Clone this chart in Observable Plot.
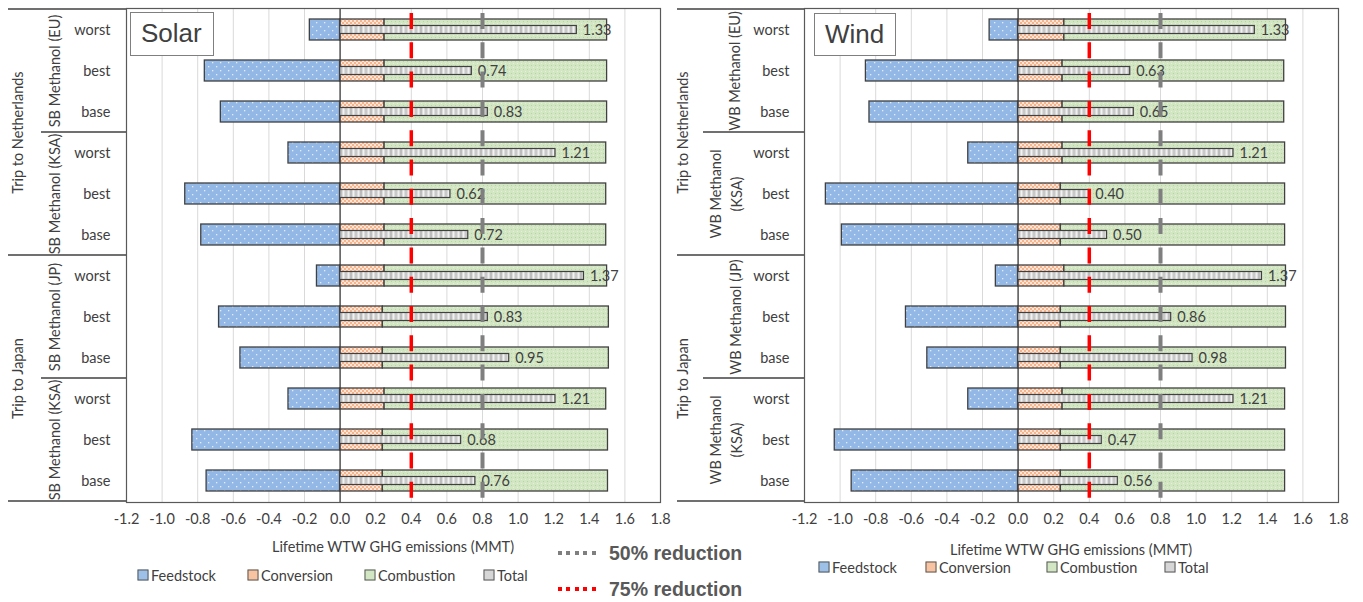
<!DOCTYPE html>
<html><head><meta charset="utf-8">
<script src="https://cdn.jsdelivr.net/npm/d3@7"></script>
<script src="https://cdn.jsdelivr.net/npm/@observablehq/plot@0.6"></script>
<style>
body{margin:0;background:#fff;font-family:Lato,sans-serif;}
#root{position:relative;width:1363px;height:602px;overflow:hidden;background:#fff;}
.box{position:absolute;border:1px solid #7f7f7f;font-family:"Liberation Sans",Arial,sans-serif;font-size:26px;color:#404040;box-sizing:border-box;padding-left:10px;line-height:40px;background:#fff;}
.axt{position:absolute;font-size:14.5px;color:#404040;white-space:nowrap;transform:translate(-50%,-50%);}
.leg{position:absolute;font-size:14.5px;color:#404040;white-space:nowrap;transform:translateY(-50%);}
.sw{position:absolute;width:9px;height:9px;border:1px solid #595959;transform:translate(-50%,-50%);}
.red{position:absolute;font-family:"Liberation Sans",Arial,sans-serif;font-weight:bold;font-size:19.5px;color:#595959;white-space:nowrap;transform:translateY(-50%);}
.dots{position:absolute;height:4px;width:38px;transform:translateY(-50%);}
</style></head>
<body>
<svg width="0" height="0" style="position:absolute">
<defs>
<pattern id="pFeed" patternUnits="userSpaceOnUse" width="8" height="8">
<rect width="8" height="8" fill="#93b8e6"/>
<rect x="2" y="2" width="1.3" height="1.3" fill="#e3edf9"/>
<rect x="6" y="6" width="1.3" height="1.3" fill="#e3edf9"/>
</pattern>
<pattern id="pConv" patternUnits="userSpaceOnUse" width="4" height="4">
<rect width="4" height="4" fill="#f6b48c"/>
<rect x="0" y="0" width="2" height="2" fill="#fde4d4"/>
<rect x="2" y="2" width="2" height="2" fill="#fde4d4"/>
</pattern>
<pattern id="pComb" patternUnits="userSpaceOnUse" width="4" height="4">
<rect width="4" height="4" fill="#d3e6c3"/>
<rect x="1" y="1" width="1" height="1" fill="#b9d4a3"/>
<rect x="3" y="3" width="1" height="1" fill="#e4f0da"/>
</pattern>
<pattern id="pTot" patternUnits="userSpaceOnUse" width="10" height="10">
<rect width="10" height="10" fill="#dcdcdc"/>
<rect x="0" width="2" height="10" fill="#bdbdbd"/>
<rect x="3" width="1" height="10" fill="#f2f2f2"/>
<rect x="5" width="2" height="10" fill="#c9c9c9"/>
<rect x="8" width="1" height="10" fill="#efefef"/>
</pattern>
</defs>
</svg>
<div id="root"></div>
<script>
// ---------- data ----------
const scenarioLabels = ["worst", "best", "base"];
const tripLabels = ["Trip to Netherlands", "Trip to Japan"];
const solarProducts = ["SB Methanol (EU)", "SB Methanol (KSA)", "SB Methanol (JP)", "SB Methanol (KSA)"];
const windProducts = ["WB Methanol (EU)", "WB Methanol\n(KSA)", "WB Methanol (JP)", "WB Methanol\n(KSA)"];

const solarFeedstock  = [-0.17, -0.76, -0.67, -0.29, -0.87, -0.78, -0.13, -0.68, -0.56, -0.29, -0.83, -0.75];
const solarConversion = [0.25, 0.25, 0.25, 0.25, 0.25, 0.25, 0.25, 0.24, 0.24, 0.25, 0.24, 0.24];
const solarCombustion = [1.25, 1.25, 1.25, 1.245, 1.245, 1.245, 1.25, 1.27, 1.27, 1.245, 1.265, 1.265];
const solarTotal      = [1.33, 0.74, 0.83, 1.21, 0.62, 0.72, 1.37, 0.83, 0.95, 1.21, 0.68, 0.76];

const windFeedstock  = [-0.16, -0.855, -0.835, -0.28, -1.08, -0.99, -0.125, -0.63, -0.51, -0.28, -1.03, -0.935];
const windConversion = [0.26, 0.25, 0.25, 0.25, 0.24, 0.24, 0.26, 0.24, 0.24, 0.25, 0.24, 0.24];
const windCombustion = [1.245, 1.245, 1.245, 1.25, 1.26, 1.26, 1.245, 1.265, 1.265, 1.25, 1.26, 1.26];
const windTotal      = [1.33, 0.63, 0.65, 1.21, 0.40, 0.50, 1.37, 0.86, 0.98, 1.21, 0.47, 0.56];

const xTicks = [-1.2, -1.0, -0.8, -0.6, -0.4, -0.2, 0.0, 0.2, 0.4, 0.6, 0.8, 1.0, 1.2, 1.4, 1.6, 1.8];
const reduction50 = 0.8;
const reduction75 = 0.4;
const legendItems = ["Feedstock", "Conversion", "Combustion", "Total"];
const reductionLabels = ["50% reduction", "75% reduction"];
const axisTitle = "Lifetime WTW GHG emissions (MMT)";

// ---------- layout ----------
const TEXT = "#404040";
const W = 690, H = 560, ML = 136, MR = 20, MT = 8, MB = 58;
const STEP = (H - MT - MB) / 12;
const root = document.getElementById("root");

function buildPanel(p) {
  const rows = d3.range(12).map(i => ({
    i, scen: scenarioLabels[i % 3],
    feed: p.feedstock[i], conv: p.conversion[i], comb: p.combustion[i], total: p.total[i]
  }));
  const productMarks = p.products.map((name, g) => Plot.text([{row: g * 3 + 1, name}], {
    y: "row", text: "name", frameAnchor: "left", textAnchor: "middle", rotate: -90, dx: p.productX[g] - ML,
    lineHeight: 1.45, fontSize: 14.5, fill: TEXT
  }));
  const chart = Plot.plot({
    width: W, height: H, marginLeft: ML, marginRight: MR, marginTop: MT, marginBottom: MB,
    style: {fontFamily: "Lato, sans-serif", fontSize: "14.5px", color: TEXT, background: "transparent", overflow: "visible"},
    x: {domain: [-1.2, 1.8], ticks: xTicks, tickFormat: d => d.toFixed(1), tickSize: 0, tickPadding: 11, label: null},
    y: {domain: d3.range(12), paddingInner: 0.5, paddingOuter: 0.25, axis: null},
    marks: [
      Plot.ruleX(xTicks, {stroke: "#d9d9d9", strokeWidth: 1}),
      Plot.barX(rows, {y: "i", x1: "feed", x2: d => 0, fill: "url(#pFeed)", stroke: "#404040", strokeWidth: 1.3}),
      Plot.barX(rows, {y: "i", x1: d => 0, x2: "conv", fill: "url(#pConv)", stroke: "#404040", strokeWidth: 1.3}),
      Plot.barX(rows, {y: "i", x1: "conv", x2: d => d.conv + d.comb, fill: "url(#pComb)", stroke: "#404040", strokeWidth: 1.3}),
      Plot.ruleX([0], {stroke: "#404040", strokeWidth: 1.3}),
      Plot.barX(rows, {y: "i", x1: d => 0, x2: "total", insetTop: 6.5, insetBottom: 6.5, fill: "url(#pTot)", stroke: "#404040", strokeWidth: 1.2}),
      Plot.text(rows, {x: "total", y: "i", text: d => d.total.toFixed(2), dx: 6, textAnchor: "start", fontSize: 14.5, fill: TEXT}),
      Plot.ruleX([reduction75], {stroke: "#ff0000", strokeWidth: 3.5, strokeDasharray: "16,13.3", strokeDashoffset: 24.3}),
      Plot.ruleX([reduction50], {stroke: "#7f7f7f", strokeWidth: 4, strokeDasharray: "16,13.3", strokeDashoffset: 24.3}),
      Plot.frame({stroke: "#595959", strokeWidth: 1.2}),
      Plot.text(rows, {y: "i", text: "scen", frameAnchor: "left", textAnchor: "end", dx: p.rowRight - ML, fontSize: 14.5, fill: TEXT}),
      ...productMarks,
      Plot.text(tripLabels.map((name, g) => ({row: g * 6 + 2, name})), {
        y: "row", text: "name", frameAnchor: "left", textAnchor: "middle", rotate: -90,
        dx: p.tripX - ML, dy: STEP / 2, fontSize: 14.5, fill: TEXT
      })
    ]
  });
  // category separators using the chart's own y scale
  const yS = chart.scale("y");
  const bnd = k => k < 12 ? yS.apply(k) + yS.bandwidth / 2 - yS.step / 2 : yS.apply(11) + yS.bandwidth / 2 + yS.step / 2;
  const seps = [
    {k: 0, x0: p.tripStart}, {k: 3, x0: p.prodStart}, {k: 6, x0: p.tripStart},
    {k: 9, x0: p.prodStart}, {k: 12, x0: p.tripStart}
  ];
  d3.select(chart).append("g").selectAll("line").data(seps).join("line")
    .attr("x1", d => d.x0).attr("x2", ML).attr("y1", d => bnd(d.k)).attr("y2", d => bnd(d.k))
    .attr("stroke", "#404040").attr("stroke-width", 1.3);

  chart.style.position = "absolute";
  chart.style.left = p.left + "px";
  chart.style.top = "0px";
  root.appendChild(chart);

  // panel title box
  const box = document.createElement("div");
  box.className = "box";
  box.textContent = p.name;
  Object.assign(box.style, {left: p.box[0] + "px", top: p.box[1] + "px", width: p.box[2] + "px", height: p.box[3] + "px"});
  root.appendChild(box);

  // axis title
  const at = document.createElement("div");
  at.className = "axt";
  at.textContent = axisTitle;
  at.style.left = (p.left + ML + (W - ML - MR) / 2) + "px";
  at.style.top = p.titleY + "px";
  root.appendChild(at);

  // legend
  const fills = ["#9dc0e8", "#f8c3a0", "#d3e6c3", "#d6d6d6"];
  legendItems.forEach((name, k) => {
    const sw = document.createElement("div");
    sw.className = "sw";
    sw.style.background = fills[k];
    sw.style.left = p.legSw[k] + "px";
    sw.style.top = p.legY + "px";
    root.appendChild(sw);
    const t = document.createElement("div");
    t.className = "leg";
    t.textContent = name;
    t.style.left = (p.legSw[k] + 8) + "px";
    t.style.top = p.legY + "px";
    root.appendChild(t);
  });
}

buildPanel({
  name: "Solar", left: -10,
  feedstock: solarFeedstock, conversion: solarConversion, combustion: solarCombustion, total: solarTotal,
  products: solarProducts, productX: [63, 63, 63, 63], tripX: 28, rowRight: 120,
  tripStart: 18, prodStart: 51,
  box: [130, 12, 84, 44], titleY: 546, legY: 575, legSw: [143, 253, 370, 489]
});
buildPanel({
  name: "Wind", left: 668,
  feedstock: windFeedstock, conversion: windConversion, combustion: windCombustion, total: windTotal,
  products: windProducts, productX: [65, 56, 66, 56], tripX: 15, rowRight: 121,
  tripStart: 9, prodStart: 35,
  box: [814, 13, 82, 43], titleY: 549, legY: 567, legSw: [824, 931, 1052, 1170]
});

// reduction reference legend
const redColors = ["#7f7f7f", "#ff0000"];
const redY = [553, 589];
reductionLabels.forEach((name, k) => {
  const d = document.createElement("div");
  d.className = "dots";
  d.style.left = "558px";
  d.style.top = redY[k] + "px";
  d.style.background = `repeating-linear-gradient(to right, ${redColors[k]} 0 4px, transparent 4px 8.5px)`;
  root.appendChild(d);
  const t = document.createElement("div");
  t.className = "red";
  t.textContent = name;
  t.style.left = "609px";
  t.style.top = redY[k] + "px";
  root.appendChild(t);
});
</script>
</body></html>
